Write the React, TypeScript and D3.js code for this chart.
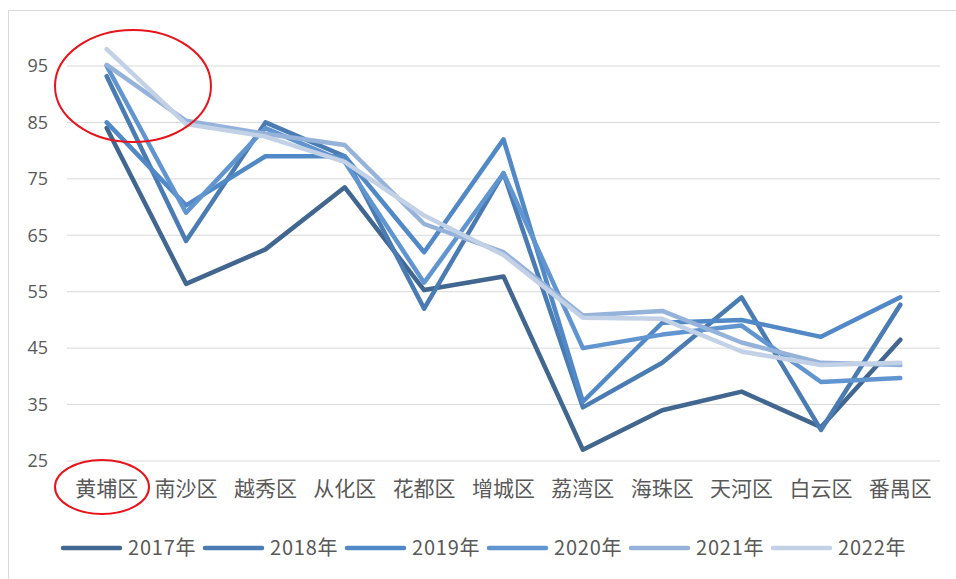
import React from 'react';
import * as d3 from 'd3';

const categories = ['黄埔区', '南沙区', '越秀区', '从化区', '花都区', '增城区', '荔湾区', '海珠区', '天河区', '白云区', '番禺区'];
const years = ['2017年', '2018年', '2019年', '2020年', '2021年', '2022年'];

const v2017 = [84, 56.4, 62.5, 73.5, 55.3, 57.7, 27, 34, 37.3, 31, 46.5];
const v2018 = [93.2, 64, 85, 79, 52, 76, 34.5, 42.4, 54, 30.5, 52.7];
const v2019 = [85, 70.3, 79, 79, 62, 82, 35.5, 49.5, 50, 47, 54];
const v2020 = [95, 69, 84, 78, 56.6, 76, 45, 47.4, 49, 39, 39.7];
const v2021 = [95.2, 85.3, 83, 81, 67, 62, 50.8, 51.6, 46, 42.4, 42];
const v2022 = [98, 84.7, 82.5, 78, 68.5, 61.5, 50.4, 50.2, 44.4, 42, 42.4];

const yTicks = [25, 35, 45, 55, 65, 75, 85, 95];
const colors = ['#41668f', '#4a7cb3', '#5189c6', '#6195d0', '#94b2da', '#c3d1e6'];

const series = [v2017, v2018, v2019, v2020, v2021, v2022];

export default function App() {
  const width = 956;
  const height = 579;

  const x = d3.scalePoint<string>().domain(categories).range([67, 940]).padding(0.5);
  const y = d3.scaleLinear().domain([25, 95]).range([461, 66]);

  const line = d3.line<number>()
    .x((_, i) => x(categories[i])!)
    .y(d => y(d));

  const legendX = d3.scaleLinear().domain([0, years.length - 1]).range([63, 773]);

  return (
    <svg width={width} height={height} style={{ position: 'absolute', left: 0, top: 0, background: '#fff' }}>
      <rect x={8.5} y={10.5} width={980} height={620} fill="#fff" stroke="#d9d9d9" />

      {/* gridlines + y labels */}
      {yTicks.map(t => (
        <g key={t}>
          <line x1={67} x2={940} y1={y(t)} y2={y(t)} stroke="#d9d9d9" strokeWidth={1} />
          <text x={48} y={y(t)} dy="0.35em" textAnchor="end" fontSize={18}
            fontFamily="'Open Sans', 'Liberation Sans', sans-serif" fill="#595959">{t}</text>
        </g>
      ))}

      {/* category labels */}
      {categories.map(c => (
        <text key={c} x={x(c)!} y={489} dy="0.35em" textAnchor="middle" fontSize={21}
          fontFamily="'Noto Sans CJK SC', sans-serif" fill="#595959">{c}</text>
      ))}

      {/* lines */}
      {series.map((s, i) => (
        <path key={years[i]} d={line(s)!} fill="none" stroke={colors[i]} strokeWidth={4.5}
          strokeLinejoin="round" strokeLinecap="round" />
      ))}

      {/* legend */}
      {years.map((yr, i) => {
        const lx = legendX(i);
        return (
          <g key={yr}>
            <line x1={lx} x2={lx + 57} y1={548} y2={548} stroke={colors[i]} strokeWidth={4.5} strokeLinecap="round" />
            <text x={lx + 65} y={548} dy="0.35em" fontSize={20} letterSpacing={0.8}
              fontFamily="'Noto Sans CJK SC', sans-serif" fill="#595959">{yr}</text>
          </g>
        );
      })}

      {/* red annotation ellipses */}
      <ellipse cx={133} cy={86} rx={78} ry={56} fill="none" stroke="#e8141b" strokeWidth={2} />
      <ellipse cx={102} cy={487} rx={47} ry={27} fill="none" stroke="#e8141b" strokeWidth={2} />
    </svg>
  );
}
